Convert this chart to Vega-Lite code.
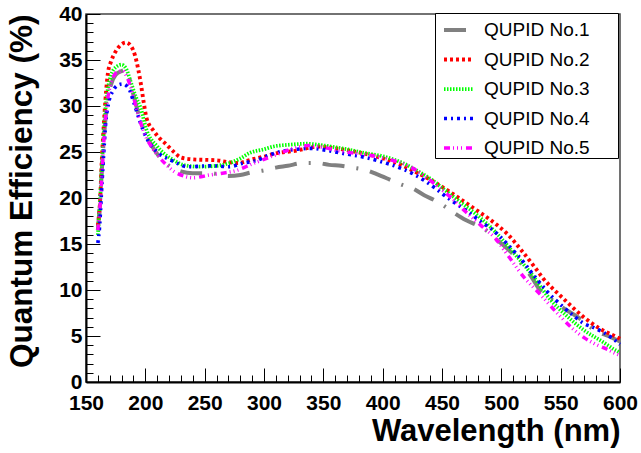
{
  "$schema": "https://vega.github.io/schema/vega-lite/v6.json",
  "width": 534,
  "height": 368,
  "autosize": "none",
  "padding": {"left": 86, "top": 14, "right": 21, "bottom": 71},
  "background": "white",
  "config": {
    "view": {"stroke": "#444", "strokeWidth": 1.5},
    "font": "Liberation Sans"
  },
  "data": {"values": [
    {"s":"QUPID No.1","x":160,"y":16.5},{"s":"QUPID No.1","x":162,"y":20},{"s":"QUPID No.1","x":164,"y":24.5},{"s":"QUPID No.1","x":166,"y":28},{"s":"QUPID No.1","x":168,"y":30.5},{"s":"QUPID No.1","x":171,"y":32.3},{"s":"QUPID No.1","x":175,"y":33.4},{"s":"QUPID No.1","x":180,"y":33.8},{"s":"QUPID No.1","x":183,"y":33.9},{"s":"QUPID No.1","x":186,"y":33.2},{"s":"QUPID No.1","x":190,"y":31.2},{"s":"QUPID No.1","x":195,"y":28.8},{"s":"QUPID No.1","x":200,"y":27},{"s":"QUPID No.1","x":205,"y":25.8},{"s":"QUPID No.1","x":210,"y":24.8},{"s":"QUPID No.1","x":220,"y":23.5},{"s":"QUPID No.1","x":230,"y":22.9},{"s":"QUPID No.1","x":240,"y":22.7},{"s":"QUPID No.1","x":255,"y":22.7},{"s":"QUPID No.1","x":270,"y":22.4},{"s":"QUPID No.1","x":280,"y":22.5},{"s":"QUPID No.1","x":290,"y":22.8},{"s":"QUPID No.1","x":300,"y":23.0},{"s":"QUPID No.1","x":310,"y":23.3},{"s":"QUPID No.1","x":320,"y":23.5},{"s":"QUPID No.1","x":333,"y":23.8},{"s":"QUPID No.1","x":345,"y":23.8},{"s":"QUPID No.1","x":355,"y":23.6},{"s":"QUPID No.1","x":365,"y":23.5},{"s":"QUPID No.1","x":375,"y":23.3},{"s":"QUPID No.1","x":387,"y":23.0},{"s":"QUPID No.1","x":395,"y":22.6},{"s":"QUPID No.1","x":406,"y":22.0},{"s":"QUPID No.1","x":415,"y":21.5},{"s":"QUPID No.1","x":426,"y":21.0},{"s":"QUPID No.1","x":435,"y":20.3},{"s":"QUPID No.1","x":443,"y":19.8},{"s":"QUPID No.1","x":451,"y":19.2},{"s":"QUPID No.1","x":460,"y":18.4},{"s":"QUPID No.1","x":470,"y":17.6},{"s":"QUPID No.1","x":480,"y":17.0},{"s":"QUPID No.1","x":488,"y":16.4},{"s":"QUPID No.1","x":495,"y":15.6},{"s":"QUPID No.1","x":505,"y":14.5},{"s":"QUPID No.1","x":512,"y":13.6},{"s":"QUPID No.1","x":519,"y":12.5},{"s":"QUPID No.1","x":526,"y":11.3},{"s":"QUPID No.1","x":533,"y":9.9},{"s":"QUPID No.1","x":540,"y":9.2},{"s":"QUPID No.1","x":546,"y":8.6},{"s":"QUPID No.1","x":555,"y":7.8},{"s":"QUPID No.1","x":565,"y":7.0},{"s":"QUPID No.1","x":572,"y":6.3},{"s":"QUPID No.1","x":579,"y":5.6},{"s":"QUPID No.1","x":590,"y":5.0},{"s":"QUPID No.1","x":600,"y":4.4},

    {"s":"QUPID No.2","x":160,"y":17},{"s":"QUPID No.2","x":162,"y":20},{"s":"QUPID No.2","x":163.2,"y":23.8},{"s":"QUPID No.2","x":164.6,"y":27.1},{"s":"QUPID No.2","x":165.7,"y":29.4},{"s":"QUPID No.2","x":167,"y":31.7},{"s":"QUPID No.2","x":168.5,"y":33.6},{"s":"QUPID No.2","x":171,"y":34.8},{"s":"QUPID No.2","x":174.4,"y":35.8},{"s":"QUPID No.2","x":179,"y":36.6},{"s":"QUPID No.2","x":183.7,"y":36.9},{"s":"QUPID No.2","x":188,"y":36.5},{"s":"QUPID No.2","x":191.3,"y":35.5},{"s":"QUPID No.2","x":194,"y":34},{"s":"QUPID No.2","x":196.5,"y":32.2},{"s":"QUPID No.2","x":198.5,"y":30.5},{"s":"QUPID No.2","x":201,"y":28.7},{"s":"QUPID No.2","x":207,"y":27.3},{"s":"QUPID No.2","x":212,"y":26.5},{"s":"QUPID No.2","x":217,"y":25.9},{"s":"QUPID No.2","x":225,"y":24.9},{"s":"QUPID No.2","x":230,"y":24.4},{"s":"QUPID No.2","x":240,"y":24.2},{"s":"QUPID No.2","x":260,"y":24.1},{"s":"QUPID No.2","x":270,"y":23.9},{"s":"QUPID No.2","x":278,"y":23.8},{"s":"QUPID No.2","x":290,"y":24.2},{"s":"QUPID No.2","x":300,"y":24.5},{"s":"QUPID No.2","x":312,"y":24.9},{"s":"QUPID No.2","x":325,"y":25.1},{"s":"QUPID No.2","x":347,"y":25.6},{"s":"QUPID No.2","x":360,"y":25.4},{"s":"QUPID No.2","x":378,"y":25.0},{"s":"QUPID No.2","x":395,"y":24.5},{"s":"QUPID No.2","x":412,"y":23.8},{"s":"QUPID No.2","x":425,"y":23.0},{"s":"QUPID No.2","x":440,"y":22.0},{"s":"QUPID No.2","x":455,"y":20.8},{"s":"QUPID No.2","x":462,"y":20.2},{"s":"QUPID No.2","x":471,"y":19.4},{"s":"QUPID No.2","x":480,"y":18.6},{"s":"QUPID No.2","x":490,"y":17.7},{"s":"QUPID No.2","x":497,"y":17.0},{"s":"QUPID No.2","x":505,"y":16.1},{"s":"QUPID No.2","x":517,"y":14.3},{"s":"QUPID No.2","x":528,"y":12.5},{"s":"QUPID No.2","x":535,"y":11.3},{"s":"QUPID No.2","x":552,"y":9.1},{"s":"QUPID No.2","x":569,"y":7.1},{"s":"QUPID No.2","x":583,"y":5.8},{"s":"QUPID No.2","x":597,"y":4.9},{"s":"QUPID No.2","x":600,"y":4.7},

    {"s":"QUPID No.3","x":160,"y":16},{"s":"QUPID No.3","x":162,"y":20},{"s":"QUPID No.3","x":164,"y":25},{"s":"QUPID No.3","x":166,"y":29},{"s":"QUPID No.3","x":168,"y":31.5},{"s":"QUPID No.3","x":171,"y":33.3},{"s":"QUPID No.3","x":175,"y":34.2},{"s":"QUPID No.3","x":180,"y":34.5},{"s":"QUPID No.3","x":184,"y":34},{"s":"QUPID No.3","x":188,"y":32.5},{"s":"QUPID No.3","x":192,"y":31},{"s":"QUPID No.3","x":196,"y":29.8},{"s":"QUPID No.3","x":201,"y":27.4},{"s":"QUPID No.3","x":210,"y":25.6},{"s":"QUPID No.3","x":224,"y":24.1},{"s":"QUPID No.3","x":232,"y":23.6},{"s":"QUPID No.3","x":245,"y":23.4},{"s":"QUPID No.3","x":260,"y":23.5},{"s":"QUPID No.3","x":271,"y":23.8},{"s":"QUPID No.3","x":280,"y":24.3},{"s":"QUPID No.3","x":288,"y":24.9},{"s":"QUPID No.3","x":300,"y":25.3},{"s":"QUPID No.3","x":308,"y":25.6},{"s":"QUPID No.3","x":322,"y":25.8},{"s":"QUPID No.3","x":336,"y":25.9},{"s":"QUPID No.3","x":345,"y":25.8},{"s":"QUPID No.3","x":356,"y":25.6},{"s":"QUPID No.3","x":370,"y":25.3},{"s":"QUPID No.3","x":384,"y":24.9},{"s":"QUPID No.3","x":398,"y":24.6},{"s":"QUPID No.3","x":417,"y":23.8},{"s":"QUPID No.3","x":430,"y":22.9},{"s":"QUPID No.3","x":440,"y":22.1},{"s":"QUPID No.3","x":454,"y":20.7},{"s":"QUPID No.3","x":465,"y":19.6},{"s":"QUPID No.3","x":480,"y":18.1},{"s":"QUPID No.3","x":495,"y":16.3},{"s":"QUPID No.3","x":510,"y":14.1},{"s":"QUPID No.3","x":525,"y":11.8},{"s":"QUPID No.3","x":541,"y":9.0},{"s":"QUPID No.3","x":555,"y":7.2},{"s":"QUPID No.3","x":570,"y":5.6},{"s":"QUPID No.3","x":585,"y":4.4},{"s":"QUPID No.3","x":597,"y":3.4},{"s":"QUPID No.3","x":600,"y":3.2},

    {"s":"QUPID No.4","x":160,"y":15.1},{"s":"QUPID No.4","x":161.5,"y":17},{"s":"QUPID No.4","x":163,"y":20.5},{"s":"QUPID No.4","x":165,"y":25},{"s":"QUPID No.4","x":166.5,"y":28},{"s":"QUPID No.4","x":169,"y":30.3},{"s":"QUPID No.4","x":173,"y":31.7},{"s":"QUPID No.4","x":177.3,"y":32.3},{"s":"QUPID No.4","x":181,"y":32.4},{"s":"QUPID No.4","x":186.5,"y":31.8},{"s":"QUPID No.4","x":190,"y":30.5},{"s":"QUPID No.4","x":195,"y":28.5},{"s":"QUPID No.4","x":200,"y":26.8},{"s":"QUPID No.4","x":210,"y":25},{"s":"QUPID No.4","x":220,"y":24.2},{"s":"QUPID No.4","x":225,"y":23.9},{"s":"QUPID No.4","x":235,"y":23.4},{"s":"QUPID No.4","x":257,"y":23.5},{"s":"QUPID No.4","x":270,"y":23.4},{"s":"QUPID No.4","x":283,"y":23.8},{"s":"QUPID No.4","x":294,"y":24.1},{"s":"QUPID No.4","x":305,"y":24.7},{"s":"QUPID No.4","x":316,"y":25.1},{"s":"QUPID No.4","x":328,"y":25.3},{"s":"QUPID No.4","x":340,"y":25.4},{"s":"QUPID No.4","x":352,"y":25.2},{"s":"QUPID No.4","x":364,"y":24.9},{"s":"QUPID No.4","x":378,"y":24.6},{"s":"QUPID No.4","x":389,"y":24.3},{"s":"QUPID No.4","x":400,"y":23.9},{"s":"QUPID No.4","x":412,"y":23.4},{"s":"QUPID No.4","x":423,"y":22.8},{"s":"QUPID No.4","x":434,"y":22.0},{"s":"QUPID No.4","x":444,"y":21.1},{"s":"QUPID No.4","x":454,"y":20.1},{"s":"QUPID No.4","x":464,"y":19.2},{"s":"QUPID No.4","x":474,"y":18.3},{"s":"QUPID No.4","x":483,"y":17.4},{"s":"QUPID No.4","x":493,"y":16.5},{"s":"QUPID No.4","x":502,"y":15.4},{"s":"QUPID No.4","x":510,"y":14.3},{"s":"QUPID No.4","x":517,"y":13.3},{"s":"QUPID No.4","x":526,"y":11.8},{"s":"QUPID No.4","x":533,"y":10.7},{"s":"QUPID No.4","x":541,"y":9.5},{"s":"QUPID No.4","x":550,"y":8.4},{"s":"QUPID No.4","x":560,"y":7.3},{"s":"QUPID No.4","x":569,"y":6.4},{"s":"QUPID No.4","x":578,"y":5.9},{"s":"QUPID No.4","x":586,"y":5.4},{"s":"QUPID No.4","x":593,"y":4.8},{"s":"QUPID No.4","x":600,"y":4.1},

    {"s":"QUPID No.5","x":160,"y":16.5},{"s":"QUPID No.5","x":162,"y":19.5},{"s":"QUPID No.5","x":164,"y":24},{"s":"QUPID No.5","x":166,"y":28},{"s":"QUPID No.5","x":168,"y":30.5},{"s":"QUPID No.5","x":171,"y":32.5},{"s":"QUPID No.5","x":174,"y":33.4},{"s":"QUPID No.5","x":177,"y":33.7},{"s":"QUPID No.5","x":181,"y":33.8},{"s":"QUPID No.5","x":185,"y":33},{"s":"QUPID No.5","x":189,"y":31.5},{"s":"QUPID No.5","x":193,"y":29.5},{"s":"QUPID No.5","x":197,"y":27.8},{"s":"QUPID No.5","x":201,"y":26.5},{"s":"QUPID No.5","x":205,"y":25.6},{"s":"QUPID No.5","x":210,"y":24.7},{"s":"QUPID No.5","x":217,"y":23.7},{"s":"QUPID No.5","x":224,"y":22.9},{"s":"QUPID No.5","x":232,"y":22.4},{"s":"QUPID No.5","x":240,"y":22.2},{"s":"QUPID No.5","x":254,"y":22.5},{"s":"QUPID No.5","x":265,"y":22.7},{"s":"QUPID No.5","x":277,"y":23.0},{"s":"QUPID No.5","x":290,"y":23.7},{"s":"QUPID No.5","x":300,"y":24.2},{"s":"QUPID No.5","x":310,"y":24.7},{"s":"QUPID No.5","x":318,"y":25.1},{"s":"QUPID No.5","x":328,"y":25.5},{"s":"QUPID No.5","x":337,"y":25.7},{"s":"QUPID No.5","x":350,"y":25.5},{"s":"QUPID No.5","x":364,"y":25.1},{"s":"QUPID No.5","x":380,"y":24.8},{"s":"QUPID No.5","x":395,"y":24.5},{"s":"QUPID No.5","x":408,"y":24.1},{"s":"QUPID No.5","x":420,"y":23.6},{"s":"QUPID No.5","x":433,"y":22.6},{"s":"QUPID No.5","x":445,"y":21.4},{"s":"QUPID No.5","x":458,"y":20.0},{"s":"QUPID No.5","x":470,"y":18.5},{"s":"QUPID No.5","x":483,"y":17.0},{"s":"QUPID No.5","x":495,"y":15.6},{"s":"QUPID No.5","x":507,"y":13.5},{"s":"QUPID No.5","x":519,"y":11.4},{"s":"QUPID No.5","x":533,"y":9.5},{"s":"QUPID No.5","x":547,"y":7.5},{"s":"QUPID No.5","x":561,"y":5.7},{"s":"QUPID No.5","x":570,"y":4.8},{"s":"QUPID No.5","x":578,"y":4.2},{"s":"QUPID No.5","x":590,"y":3.5},{"s":"QUPID No.5","x":597,"y":3.05},{"s":"QUPID No.5","x":600,"y":2.9}
  ]},
  "mark": {"type": "line", "interpolate": "monotone", "strokeCap": "butt"},
  "encoding": {
    "x": {
      "field": "x", "type": "quantitative",
      "scale": {"domain": [150, 600], "nice": false, "zero": false},
      "axis": {
        "title": "Wavelength (nm)",
        "values": [150,160,170,180,190,200,210,220,230,240,250,260,270,280,290,300,310,320,330,340,350,360,370,380,390,400,410,420,430,440,450,460,470,480,490,500,510,520,530,540,550,560,570,580,590,600],
        "labelExpr": "datum.value % 50 === 0 ? datum.label : ''",
        "tickSize": {"condition": {"test": "datum.value % 50 === 0", "value": -14}, "value": -7},
        "tickColor": "black", "tickWidth": 1,
        "domainColor": "black", "domainWidth": 2,
        "grid": false,
        "labelFont": "Liberation Sans", "labelFontWeight": "bold", "labelFontSize": 21, "labelColor": "black",
        "labelPadding": 24, "labelFlush": false, "labelOverlap": false,
        "titleFont": "Liberation Sans", "titleFontWeight": "bold", "titleFontSize": 31, "titleColor": "black",
        "titleAnchor": "end", "titleAlign": "right", "titlePadding": -4
      }
    },
    "y": {
      "field": "y", "type": "quantitative",
      "scale": {"domain": [0, 40], "nice": false},
      "axis": {
        "title": "Quantum Efficiency (%)",
        "values": [0,1,2,3,4,5,6,7,8,9,10,11,12,13,14,15,16,17,18,19,20,21,22,23,24,25,26,27,28,29,30,31,32,33,34,35,36,37,38,39,40],
        "labelExpr": "datum.value % 5 === 0 ? datum.label : ''",
        "tickSize": {"condition": {"test": "datum.value % 5 === 0", "value": -14}, "value": -7},
        "tickColor": "black", "tickWidth": 1,
        "domainColor": "black", "domainWidth": 2,
        "grid": false,
        "labelFont": "Liberation Sans", "labelFontWeight": "bold", "labelFontSize": 21, "labelColor": "black",
        "labelPadding": 18, "labelFlush": false, "labelOverlap": false,
        "titleFont": "Liberation Sans", "titleFontWeight": "bold", "titleFontSize": 31.5, "titleColor": "black",
        "titleAnchor": "end", "titleAlign": "right", "titlePadding": 20
      }
    },
    "color": {
      "field": "s", "type": "nominal",
      "scale": {"domain": ["QUPID No.1","QUPID No.2","QUPID No.3","QUPID No.4","QUPID No.5"], "range": ["#808080","#ff0000","#00ff00","#0000ff","#ff00ff"]},
      "legend": {
        "title": null, "orient": "none", "legendX": 349, "legendY": -1,
        "fillColor": "white", "strokeColor": "black", "padding": 0, "rowPadding": 2.5,
        "symbolType": "stroke", "symbolSize": 900, "symbolStrokeWidth": 3, "symbolOffset": 7,
        "labelFont": "Liberation Sans", "labelFontSize": 19, "labelColor": "black", "labelOffset": 8,
        "labelExpr": "datum.label + '\u2800\u2800'"
      }
    },
    "strokeDash": {
      "field": "s", "type": "nominal",
      "scale": {"domain": ["QUPID No.1","QUPID No.2","QUPID No.3","QUPID No.4","QUPID No.5"], "range": [[22,12,2,12],[3,3],[1.5,1.5],[3,4,2,4],[6,3,1,3,1,3,1,4]]},
      "legend": {
        "title": null, "orient": "none", "legendX": 349, "legendY": -1,
        "fillColor": "white", "strokeColor": "black", "padding": 0, "rowPadding": 2.5,
        "symbolType": "stroke", "symbolSize": 900, "symbolStrokeWidth": 3, "symbolOffset": 7,
        "labelFont": "Liberation Sans", "labelFontSize": 19, "labelColor": "black", "labelOffset": 8,
        "labelExpr": "datum.label + '\u2800\u2800'"
      }
    },
    "strokeWidth": {
      "field": "s", "type": "nominal",
      "scale": {"domain": ["QUPID No.1","QUPID No.2","QUPID No.3","QUPID No.4","QUPID No.5"], "range": [4, 3.5, 3, 3, 3]},
      "legend": null
    }
  }
}
